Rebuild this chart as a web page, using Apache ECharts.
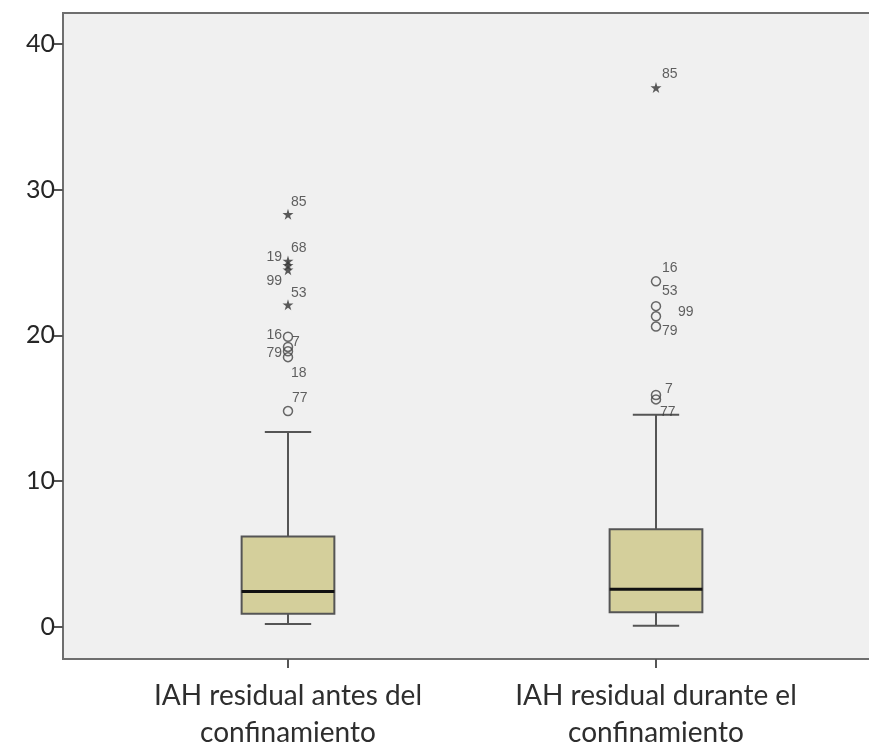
<!DOCTYPE html>
<html>
<head>
<meta charset="utf-8">
<script src="https://cdn.jsdelivr.net/npm/echarts@6/dist/echarts.min.js"></script>
<style>
html,body{margin:0;padding:0;background:#ffffff;}
#chart{width:869px;height:747px;}
</style>
</head>
<body>
<div id="chart"></div>
<script>
// ---- data ----
const categories = ['IAH residual antes del\nconfinamiento', 'IAH residual durante el\nconfinamiento'];
const whiskerLow = [0.19, 0.07];
const q1 = [0.88, 0.99];
const medians = [2.42, 2.57];
const q3 = [6.18, 6.68];
const whiskerHigh = [13.36, 14.55];

// extreme outliers (stars): [category index, value]
const extremeCat = [0, 0, 0, 0, 0, 1];
const extremeVal = [28.3, 25.1, 24.8, 24.5, 22.1, 37.0];
const extremeIds = ['85', '68', '19', '99', '53', '85'];

// outliers (circles)
const outCat = [0, 0, 0, 0, 0, 1, 1, 1, 1, 1, 1];
const outVal = [19.9, 19.2, 18.9, 18.5, 14.8, 23.7, 22.0, 21.3, 20.6, 15.9, 15.6];
const outIds = ['16', '7', '79', '18', '77', '16', '53', '99', '79', '7', '77'];

const yTicks = [0, 10, 20, 30, 40];

// label placement (style only): [dx, dy, align]
const extremeLabelPos = [[3, -12, 'left'], [3, -13, 'left'], [-6, -8, 'right'], [-6, 11, 'right'], [3, -12, 'left'], [6, -13, 'left']];
const outLabelPos = [[-6, -2, 'right'], [4, -5, 'left'], [-6, 2, 'right'], [3, 16, 'left'], [4, -13, 'left'],
                     [6, -13, 'left'], [6, -15, 'left'], [22, -4, 'left'], [6, 5, 'left'], [9, -6, 'left'], [4, 13, 'left']];

function labelCfg(p) {
  return {show: true, position: 'inside', align: p[2], verticalAlign: 'middle', offset: [p[0], p[1]]};
}

const boxData = categories.map((c, i) => [i, whiskerLow[i], q1[i], medians[i], q3[i], whiskerHigh[i]]);
const starData = extremeVal.map((v, i) => ({value: [extremeCat[i], v], name: extremeIds[i], label: labelCfg(extremeLabelPos[i])}));
const circleData = outVal.map((v, i) => ({value: [outCat[i], v], name: outIds[i], label: labelCfg(outLabelPos[i])}));

const boxWidthFrac = 0.252;
const starPath = 'path://M50,0 L61,35 L98,35 L68,57 L79,91 L50,70 L21,91 L32,57 L2,35 L39,35 Z';

const labelStyle = {formatter: (p) => p.name, fontFamily: 'Liberation Sans, Arial, sans-serif', fontSize: 14, color: '#3a3a3a'};

const chart = echarts.init(document.getElementById('chart'), null, {renderer: 'canvas'});
chart.setOption({
  animation: false,
  backgroundColor: '#ffffff',
  grid: {left: 63, top: 13, right: -4, bottom: 88, show: true, backgroundColor: '#f0f0f0', borderColor: '#6e6e6e', borderWidth: 2,
    containLabel: false, outerBoundsMode: 'none'},
  xAxis: {
    type: 'value', min: -0.6114, max: 1.5897,
    splitLine: {show: false},
    axisLine: {show: true, onZero: false, lineStyle: {color: '#6e6e6e', width: 2}},
    axisTick: {show: true, customValues: [0, 1], length: 9, lineStyle: {color: '#555', width: 2}},
    axisLabel: {show: true, customValues: [0, 1], formatter: (v) => categories[Math.round(v)],
      fontFamily: 'Lato, sans-serif', fontSize: 28, lineHeight: 37, color: '#2e2e2e', margin: 18}
  },
  yAxis: {
    type: 'value', min: -2.22, max: 42.12,
    splitLine: {show: false},
    axisLine: {show: true, onZero: false, lineStyle: {color: '#6e6e6e', width: 2}},
    axisTick: {show: true, customValues: yTicks, length: 10, lineStyle: {color: '#555', width: 2}},
    axisLabel: {show: true, customValues: yTicks, fontFamily: 'Lato, sans-serif', fontSize: 25, color: '#262626', margin: 8}
  },
  series: [
    {
      type: 'custom',
      data: boxData,
      encode: {x: 0, y: [1, 2, 3, 4, 5]},
      renderItem: function (params, api) {
        const x = api.value(0);
        const unit = api.size([1, 0])[0];
        const bw = unit * boxWidthFrac;
        const pLo = api.coord([x, api.value(1)]);
        const pQ1 = api.coord([x, api.value(2)]);
        const pMed = api.coord([x, api.value(3)]);
        const pQ3 = api.coord([x, api.value(4)]);
        const pHi = api.coord([x, api.value(5)]);
        const cx = pMed[0];
        const lineSt = {stroke: '#555555', lineWidth: 2};
        return {
          type: 'group',
          children: [
            {type: 'line', shape: {x1: cx, y1: pHi[1], x2: cx, y2: pQ3[1]}, style: lineSt},
            {type: 'line', shape: {x1: cx, y1: pQ1[1], x2: cx, y2: pLo[1]}, style: lineSt},
            {type: 'line', shape: {x1: cx - bw / 4, y1: pHi[1], x2: cx + bw / 4, y2: pHi[1]}, style: lineSt},
            {type: 'line', shape: {x1: cx - bw / 4, y1: pLo[1], x2: cx + bw / 4, y2: pLo[1]}, style: lineSt},
            {type: 'rect', shape: {x: cx - bw / 2, y: pQ3[1], width: bw, height: pQ1[1] - pQ3[1]},
              style: {fill: '#d4cf9b', stroke: '#555555', lineWidth: 2}},
            {type: 'line', shape: {x1: cx - bw / 2, y1: pMed[1], x2: cx + bw / 2, y2: pMed[1]}, style: {stroke: '#111111', lineWidth: 3}}
          ]
        };
      },
      z: 2
    },
    {
      type: 'scatter',
      data: circleData,
      symbol: 'circle',
      symbolSize: 9,
      itemStyle: {color: 'rgba(0,0,0,0)', borderColor: '#444', borderWidth: 1.5},
      label: labelStyle,
      z: 3
    },
    {
      type: 'scatter',
      data: starData,
      symbol: starPath,
      symbolSize: 11,
      itemStyle: {color: '#333'},
      label: labelStyle,
      z: 3
    }
  ]
});
</script>
</body>
</html>
